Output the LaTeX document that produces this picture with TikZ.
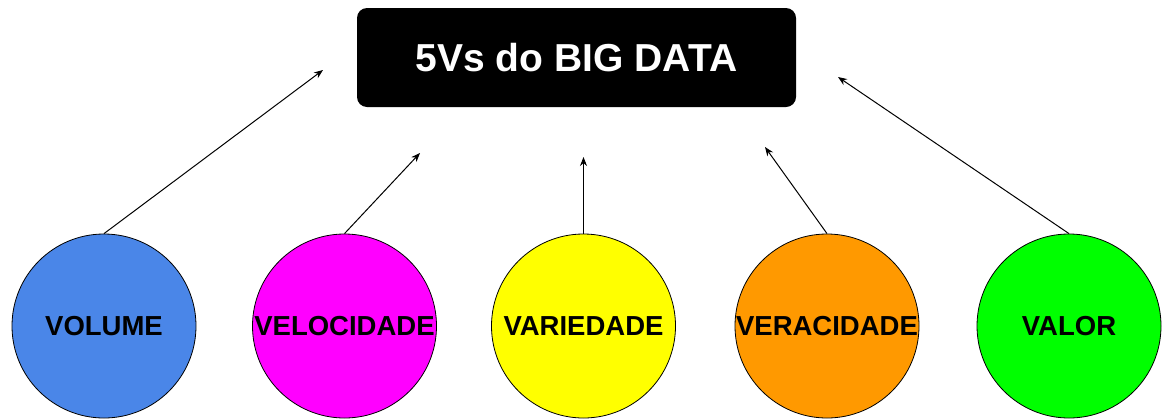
\documentclass[tikz,border=0pt]{standalone}
\usepackage{fontspec}
\setmainfont{Liberation Sans}
\usetikzlibrary{arrows.meta}

\definecolor{volblue}{HTML}{4A86E8}
\definecolor{velmag}{HTML}{FF00FF}
\definecolor{varyel}{HTML}{FFFF00}
\definecolor{verora}{HTML}{FF9900}
\definecolor{valgrn}{HTML}{00FF00}

\begin{document}
\begin{tikzpicture}[x=1pt, y=-1pt, line width=1pt,
    >={Stealth[length=9pt, width=7pt]},
    vball/.style={draw, circle, minimum size=184pt, inner sep=0pt, line width=0.8pt},
    vtext/.style={font=\bfseries\fontsize{27.5}{27.5}\selectfont}]

    \useasboundingbox (0,0) rectangle (1164,418);

    \node[fill=black, rounded corners=10pt, minimum width=439pt, minimum height=99pt,
          text=white, font=\bfseries\fontsize{39}{39}\selectfont] (title) at (576.5,57.5) {5Vs do BIG DATA};

    \foreach \name/\x/\col/\txt in {vol/104/volblue/VOLUME, vel/344.5/velmag/VELOCIDADE,
        var/583.5/varyel/VARIEDADE, ver/827/verora/VERACIDADE, val/1069/valgrn/VALOR} {
      \node[vball, fill=\col, label={[vtext]center:\txt}] (\name) at (\x,326) {};
    }

    \coordinate (tvol) at (323,70);
    \coordinate (tvel) at (420,153);
    \coordinate (tvar) at (583.5,157);
    \coordinate (tver) at (765,147);
    \coordinate (tval) at (838,77);

    \foreach \a in {vol, vel, var, ver, val} {
      \draw[->] (\a.north) -- (t\a);
    }

  \end{tikzpicture}
\end{document}
